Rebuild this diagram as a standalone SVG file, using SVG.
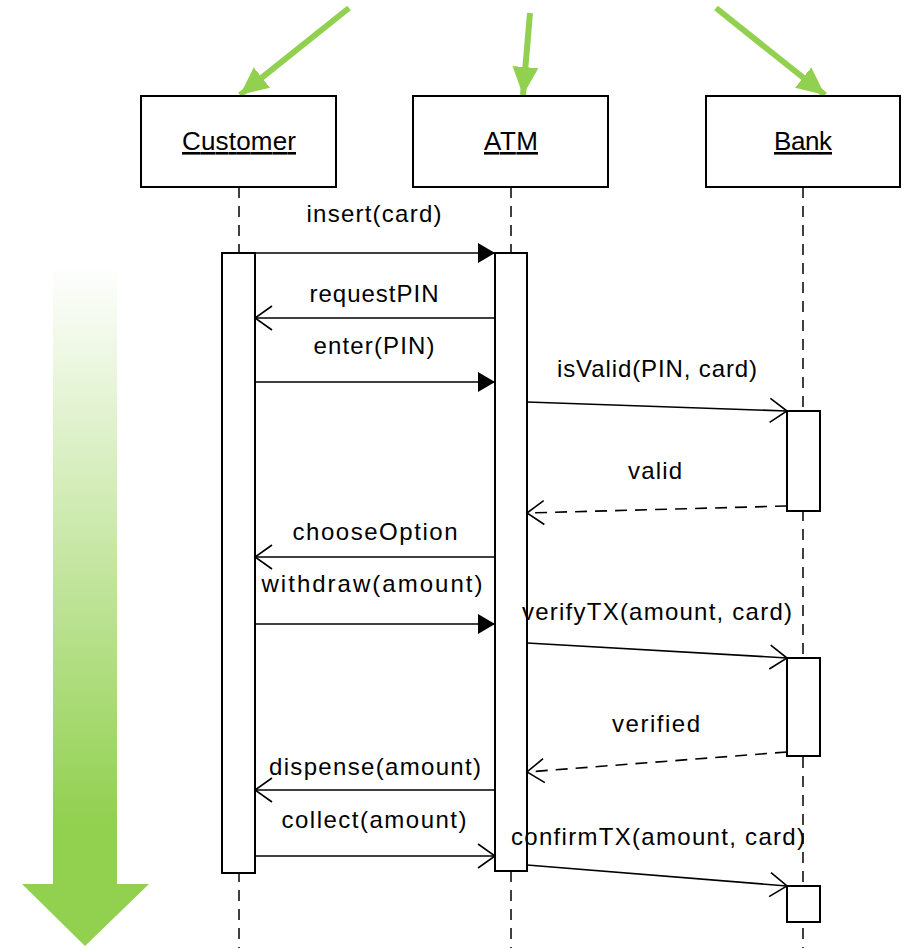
<svg xmlns="http://www.w3.org/2000/svg" width="903" height="948" viewBox="0 0 903 948">
<style>
.box{fill:#fff;stroke:#000;stroke-width:2}
.life{stroke:#000;stroke-width:1.5;stroke-dasharray:11 8;fill:none}
.msg{stroke:#000;stroke-width:1.6;fill:none}
.ret{stroke:#000;stroke-width:1.6;fill:none;stroke-dasharray:12 8}
.g{stroke:#92D050;stroke-width:6;fill:none}
text{font-family:"Liberation Sans","Noto Sans",Arial,sans-serif;font-size:24px;fill:#000;text-anchor:middle}
.title{font-size:26px;text-decoration:underline}
</style>
<defs>
<marker id="filled" markerWidth="20" markerHeight="20" refX="17" refY="10" orient="auto" markerUnits="userSpaceOnUse">
<path d="M0,0 L17,10 L0,20 Z" fill="#000"/>
</marker>
<marker id="open" markerWidth="20" markerHeight="28" refX="18" refY="14" orient="auto" markerUnits="userSpaceOnUse">
<path d="M1,2 L18,14 L1,26" fill="none" stroke="#000" stroke-width="1.6"/>
</marker>
<marker id="garrow" markerWidth="30" markerHeight="30" refX="28" refY="15" orient="auto" markerUnits="userSpaceOnUse">
<path d="M0,2 L28,15 L0,28 Z" fill="#92D050"/>
</marker>
<linearGradient id="gr" x1="0" y1="0" x2="0" y2="1">
<stop offset="0" stop-color="#92D050" stop-opacity="0"/>
<stop offset="0.82" stop-color="#92D050" stop-opacity="1"/>
<stop offset="1" stop-color="#92D050"/>
</linearGradient>
</defs>

<g id="time-arrow">
<path d="M53,265 L117,265 L117,884 L149,884 L85,946 L22,884 L53,884 Z" fill="url(#gr)"/>
</g>

<g id="pointers">
<line class="g" x1="349" y1="8" x2="240" y2="95" marker-end="url(#garrow)"/>
<line class="g" x1="530" y1="13" x2="523" y2="95" marker-end="url(#garrow)"/>
<line class="g" x1="716" y1="8" x2="825" y2="95" marker-end="url(#garrow)"/>
</g>

<g id="lifelines">
<line class="life" x1="239" y1="187" x2="239" y2="948"/>
<line class="life" x1="511" y1="187" x2="511" y2="948"/>
<line class="life" x1="803" y1="187" x2="803" y2="948"/>
</g>

<g id="customer">
<rect class="box" x="141" y="96" width="195" height="91"/>
<text class="title" x="239" y="150" textLength="114">Customer</text>
<rect class="box" x="222" y="253" width="33" height="620"/>
</g>
<g id="atm">
<rect class="box" x="413" y="96" width="195" height="91"/>
<text class="title" x="511" y="150" textLength="54">ATM</text>
<rect class="box" x="495" y="253" width="32" height="618"/>
</g>
<g id="bank">
<rect class="box" x="706" y="96" width="194" height="91"/>
<text class="title" x="803" y="150" textLength="58">Bank</text>
<rect class="box" x="787" y="411" width="33" height="100"/>
<rect class="box" x="787" y="658" width="33" height="98"/>
<rect class="box" x="787" y="886" width="33" height="36"/>
</g>

<g id="connectors">
<line class="msg" x1="255" y1="253" x2="495" y2="253" marker-end="url(#filled)"/>
<line class="msg" x1="495" y1="318" x2="255" y2="318" marker-end="url(#open)"/>
<line class="msg" x1="255" y1="382" x2="495" y2="382" marker-end="url(#filled)"/>
<line class="msg" x1="527" y1="402" x2="787" y2="411" marker-end="url(#open)"/>
<line class="ret" x1="787" y1="506" x2="527" y2="513" marker-end="url(#open)"/>
<line class="msg" x1="495" y1="557" x2="255" y2="557" marker-end="url(#open)"/>
<line class="msg" x1="255" y1="624" x2="495" y2="624" marker-end="url(#filled)"/>
<line class="msg" x1="527" y1="643" x2="787" y2="658" marker-end="url(#open)"/>
<line class="ret" x1="787" y1="752" x2="527" y2="772" marker-end="url(#open)"/>
<line class="msg" x1="495" y1="790" x2="255" y2="790" marker-end="url(#open)"/>
<line class="msg" x1="255" y1="856" x2="495" y2="856" marker-end="url(#open)"/>
<line class="msg" x1="527" y1="865" x2="787" y2="886" marker-end="url(#open)"/>
</g>

<g id="labels">
<text x="374" y="222" textLength="135">insert(card)</text>
<text x="374" y="302" textLength="129">requestPIN</text>
<text x="374" y="354" textLength="121">enter(PIN)</text>
<text x="657" y="377" textLength="200">isValid(PIN, card)</text>
<text x="655" y="479" textLength="54">valid</text>
<text x="375" y="540" textLength="165">chooseOption</text>
<text x="372" y="592" textLength="221">withdraw(amount)</text>
<text x="657" y="620" textLength="270">verifyTX(amount, card)</text>
<text x="656" y="732" textLength="88">verified</text>
<text x="375" y="775" textLength="212">dispense(amount)</text>
<text x="374" y="828" textLength="185">collect(amount)</text>
<text x="658" y="845" textLength="294">confirmTX(amount, card)</text>
</g>
</svg>
